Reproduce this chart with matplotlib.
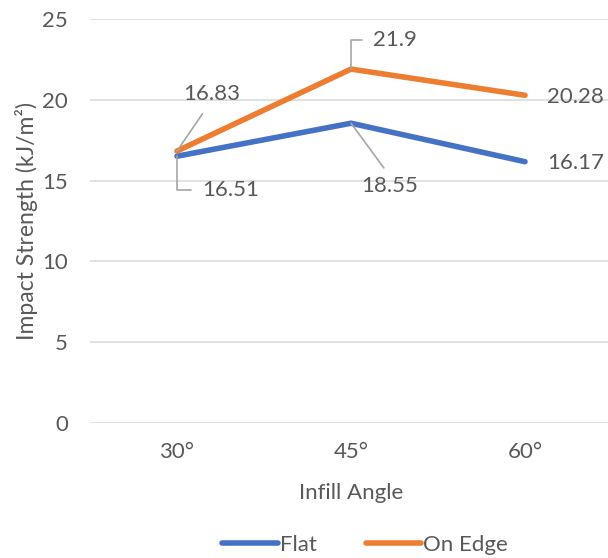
import matplotlib
matplotlib.use("Agg")
import matplotlib.pyplot as plt

categories = ["30°", "45°", "60°"]
flat = [16.51, 18.55, 16.17]
on_edge = [16.83, 21.9, 20.28]
y_ticks = [0, 5, 10, 15, 20, 25]

BLUE = "#4472C4"
ORANGE = "#ED7D31"
TXT = "#595959"
GRID = "#D9D9D9"
FONT = ["Lato", "DejaVu Sans"]

plt.rcParams['font.family'] = FONT
W, H = 608, 558
fig = plt.figure(figsize=(W / 100, H / 100), dpi=100)
left, right, top, bottom = 90, 612, 19, 423
ax = fig.add_axes([left / W, 1 - bottom / H, (right - left) / W, (bottom - top) / H])

x = list(range(len(categories)))
ax.plot(x, flat, color=BLUE, lw=4.0, solid_capstyle='round', solid_joinstyle='miter', label="Flat", zorder=3)
ax.plot(x, on_edge, color=ORANGE, lw=4.0, solid_capstyle='round', solid_joinstyle='miter', label="On Edge", zorder=3)

ax.set_xlim(-0.5, len(categories) - 0.5)
ax.set_ylim(0, 25)
ax.set_yticks(y_ticks)
ax.set_xticks(x)
ax.set_xticklabels(categories)
ax.grid(axis='y', color=GRID, lw=1.1)
ax.set_axisbelow(True)
for s in ax.spines.values():
    s.set_visible(False)
fs = 16
ax.tick_params(length=0, labelsize=fs, colors=TXT)
ax.tick_params(axis='y', pad=16)
ax.tick_params(axis='x', pad=14)
ax.set_xlabel("Infill Angle", fontsize=fs, color=TXT, labelpad=15)
ax.set_ylabel("Impact Strength (kJ/m²)", fontsize=16.5, color=TXT, labelpad=3)

lead = dict(arrowstyle='-', color='#A6A6A6', lw=1.2, shrinkB=0)
ax.annotate(f"{on_edge[0]:g}", (x[0], on_edge[0]), xytext=(35, 57), textcoords='offset pixels',
            ha='center', va='center', fontsize=fs, color=TXT,
            arrowprops=dict(lead, relpos=(0.45, 0.0), shrinkA=6))
ax.annotate(f"{flat[0]:g}", (x[0], flat[0]), xytext=(25, -34), textcoords='offset pixels',
            ha='left', va='center', fontsize=fs, color=TXT,
            arrowprops=dict(lead, relpos=(0.0, 0.5), shrinkA=6,
                            connectionstyle='angle,angleA=0,angleB=90,rad=0'))
ax.annotate(f"{on_edge[1]:g}", (x[1], on_edge[1]), xytext=(22, 29), textcoords='offset pixels',
            ha='left', va='center', fontsize=fs, color=TXT,
            arrowprops=dict(lead, relpos=(0.0, 0.5), shrinkA=6,
                            connectionstyle='angle,angleA=0,angleB=90,rad=0'))
ax.annotate(f"{flat[1]:.2f}", (x[1], flat[1]), xytext=(39, -63), textcoords='offset pixels',
            ha='center', va='center', fontsize=fs, color=TXT,
            arrowprops=dict(lead, relpos=(0.5, 1.0), shrinkA=5))
ax.annotate(f"{on_edge[2]:.2f}", (x[2], on_edge[2]), xytext=(22, -2), textcoords='offset pixels',
            ha='left', va='center', fontsize=fs, color=TXT)
ax.annotate(f"{flat[2]:.2f}", (x[2], flat[2]), xytext=(22, -1), textcoords='offset pixels',
            ha='left', va='center', fontsize=fs, color=TXT)

leg = fig.legend(loc='center', bbox_to_anchor=(365 / W, 1 - 545 / H), ncol=2, frameon=False,
                 fontsize=fs, handlelength=2.5, handletextpad=0.1, columnspacing=2.2,
                 labelcolor=TXT)

fig.savefig("out.png", dpi=100)
